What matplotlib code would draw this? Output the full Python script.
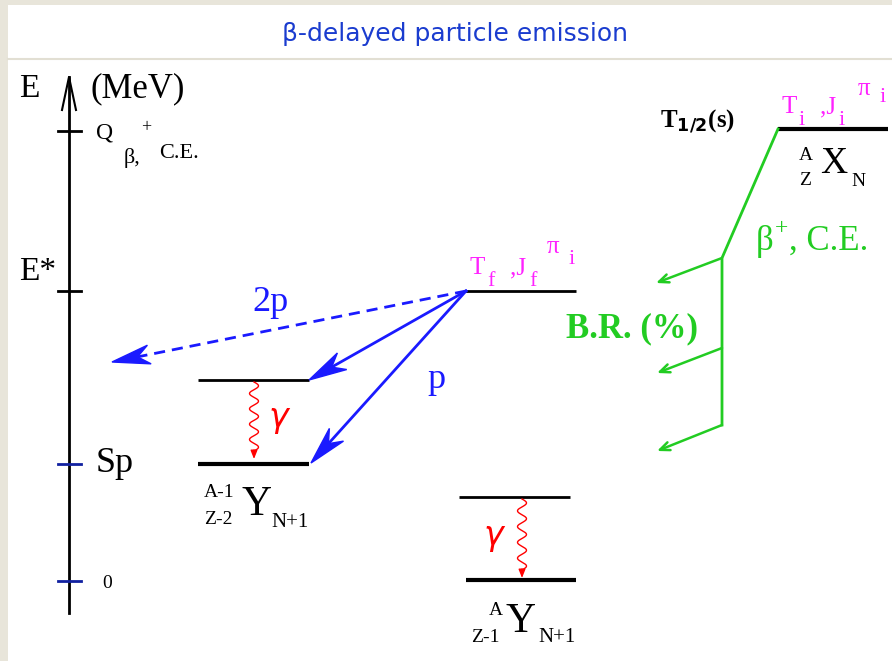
import numpy as np
import matplotlib.pyplot as plt
from matplotlib.patches import Rectangle, Polygon, FancyArrowPatch

# pixel frame of the slide (y grows downward)
W, H = 892, 661

# energy axis
axis_x = 69
axis_y0, axis_y1 = 613, 77
tick_y = [131, 291, 464, 581]
tick_color = ['black', 'black', '#1020a0', '#1020a0']

# levels: x start, x end, y, line width
lev_x0 = [778, 465, 198, 198, 459, 466]
lev_x1 = [888, 576, 309, 309, 570, 576]
lev_y = [129, 291, 380, 464, 497, 580]
lev_lw = [3.0, 2.0, 2.0, 3.0, 2.0, 3.0]

# beta feeding (green)
beta_path_x = [778, 722, 722]
beta_path_y = [129, 258, 425]
br_from_y = [258, 348, 425]
br_to = [(656, 283), (657, 373), (657, 451)]

# proton emission (blue)
p_src = (466, 291)
p_tips = [(309, 380), (311, 463)]
twop_tip = (112, 362)

# gamma transitions: x, y top, y bottom
gam_x = [254, 522]
gam_top = [382, 499]
gam_bot = [459, 578]

fig = plt.figure(figsize=(W / 100, H / 100), dpi=100)
fig.patch.set_facecolor('#e8e5da')
ax = fig.add_axes([0, 0, 1, 1])
ax.set_xlim(0, W)
ax.set_ylim(H, 0)
ax.axis('off')

ax.add_patch(Rectangle((8, 5), W - 8, H - 5, facecolor='white', edgecolor='none', zorder=0))
ax.plot([8, W], [59, 59], color='#e2dfd3', lw=1.5)

serif = 'Liberation Serif'
blue = '#1a1aff'
green = '#22cc22'
mag = '#ff22ff'


def head(tip, src, color, L=38, w=9.5, notch=12):
    # notched arrow head drawn at tip, pointing away from src
    tip = np.array(tip, float)
    d = tip - np.array(src, float)
    d /= np.hypot(*d)
    n = np.array([-d[1], d[0]])
    base = tip - L * d
    pts = [tip, base + w * n, base + notch * d, base - w * n]
    ax.add_patch(Polygon(pts, closed=True, facecolor=color, edgecolor=color, lw=1, zorder=3))
    return base + notch * d


ax.text(455, 34, '\u03b2-delayed particle emission', ha='center', va='center',
        fontsize=18, color='#1a3ccf', family='DejaVu Sans')

# axis
ax.plot([axis_x, axis_x], [axis_y0, axis_y1], color='black', lw=2)
ax.plot([axis_x - 7, axis_x, axis_x + 7], [110, axis_y1, 110], color='black', lw=1.5)
for y, c in zip(tick_y, tick_color):
    ax.plot([axis_x - 11, axis_x + 12], [y, y], color=c, lw=2)

ax.text(19, 97, 'E', fontsize=24, family=serif)
ax.text(91, 97, '(MeV)', fontsize=25, family=serif)
ax.text(96, 139, 'Q', fontsize=17, family=serif)
ax.text(124, 163, '\u03b2,', fontsize=16, family=serif)
ax.text(141, 132, '+', fontsize=13, family=serif)
ax.text(159, 158, 'C.E.', fontsize=16, family=serif)
ax.text(19, 280, 'E*', fontsize=24, family=serif)
ax.text(96, 472, 'Sp', fontsize=26, family=serif)
ax.text(102, 588, '0', fontsize=14, family=serif)

# levels
for x0, x1, y, lw in zip(lev_x0, lev_x1, lev_y, lev_lw):
    ax.plot([x0, x1], [y, y], color='black', lw=lw, solid_capstyle='butt')

# green beta feeding
ax.plot(beta_path_x, beta_path_y, color=green, lw=2)
for y, (tx, ty) in zip(br_from_y, br_to):
    ax.add_patch(FancyArrowPatch((722, y), (tx, ty), arrowstyle='->,head_length=7,head_width=3',
                                 color=green, lw=1.8, mutation_scale=1, shrinkA=0, shrinkB=0))

# blue proton arrows
for tip in p_tips:
    end = head(tip, p_src, blue)
    ax.plot([p_src[0], end[0]], [p_src[1], end[1]], color=blue, lw=2)
end = head(twop_tip, p_src, blue)
ax.plot([p_src[0], end[0]], [p_src[1], end[1]], color=blue, lw=2, ls=(0, (4, 2.5)))

# gamma wiggles
for gx, yt, yb in zip(gam_x, gam_top, gam_bot):
    yy = np.linspace(yt, yb - 8, 200)
    xx = gx + 4.5 * np.sin((yy - yt) / (yb - 8 - yt) * 2 * np.pi * 4.5)
    ax.plot(xx, yy, color='red', lw=1)
    ax.add_patch(FancyArrowPatch((xx[-1], yb - 9), (gx, yb), arrowstyle='-|>,head_length=5,head_width=2',
                                 color='red', lw=1, mutation_scale=1, shrinkA=0, shrinkB=0))
ax.text(280, 420, r'$\gamma$', fontsize=24, color='red', ha='center', va='center', weight='bold')
ax.text(495, 538, r'$\gamma$', fontsize=24, color='red', ha='center', va='center', weight='bold')

ax.text(271, 311, '2p', fontsize=26, color=blue, family=serif, ha='center')
ax.text(436, 388, 'p', fontsize=26, color=blue, family=serif, ha='center')

# daughter state labels
ax.text(469, 274, 'T', fontsize=18, color=mag, family=serif)
ax.text(487, 286, 'f', fontsize=16, color=mag, family=serif)
ax.text(510, 274, ',J', fontsize=18, color=mag, family=serif)
ax.text(529, 286, 'f', fontsize=16, color=mag, family=serif)
ax.text(547, 253, '\u03c0', fontsize=18, color=mag, family=serif)
ax.text(569, 264, 'i', fontsize=16, color=mag, family=serif)

# parent labels
ax.text(660, 127, r'T$_{\mathbf{1/2}}$(s)', fontsize=18, family=serif, weight='bold')
ax.text(781, 113, 'T', fontsize=18, color=mag, family=serif)
ax.text(799, 125, 'i', fontsize=16, color=mag, family=serif)
ax.text(820, 113, ',J', fontsize=18, color=mag, family=serif)
ax.text(839, 125, 'i', fontsize=16, color=mag, family=serif)
ax.text(858, 95, '\u03c0', fontsize=18, color=mag, family=serif)
ax.text(880, 102, 'i', fontsize=16, color=mag, family=serif)

ax.text(799, 160, 'A', fontsize=14, family=serif)
ax.text(799, 185, 'Z', fontsize=14, family=serif)
ax.text(820, 173, 'X', fontsize=27, family=serif)
ax.text(851, 186, 'N', fontsize=14, family=serif)

ax.text(756, 250, '\u03b2', fontsize=25, color=green, family=serif)
ax.text(775, 234, '+', fontsize=17, color=green, family=serif)
ax.text(789, 250, ', C.E.', fontsize=25, color=green, family=serif)
ax.text(566, 337, 'B.R. (%)', fontsize=25, color=green, family=serif, weight='bold')

# daughter nuclei
ax.text(204, 497, 'A-1', fontsize=14, family=serif)
ax.text(204, 524, 'Z-2', fontsize=14, family=serif)
ax.text(242, 515, 'Y', fontsize=30, family=serif)
ax.text(271, 527, 'N+1', fontsize=15, family=serif)

ax.text(489, 615, 'A', fontsize=14, family=serif)
ax.text(471, 642, 'Z-1', fontsize=14, family=serif)
ax.text(506, 632, 'Y', fontsize=30, family=serif)
ax.text(538, 642, 'N+1', fontsize=15, family=serif)

fig.savefig('out.png', dpi=100, facecolor=fig.get_facecolor())
